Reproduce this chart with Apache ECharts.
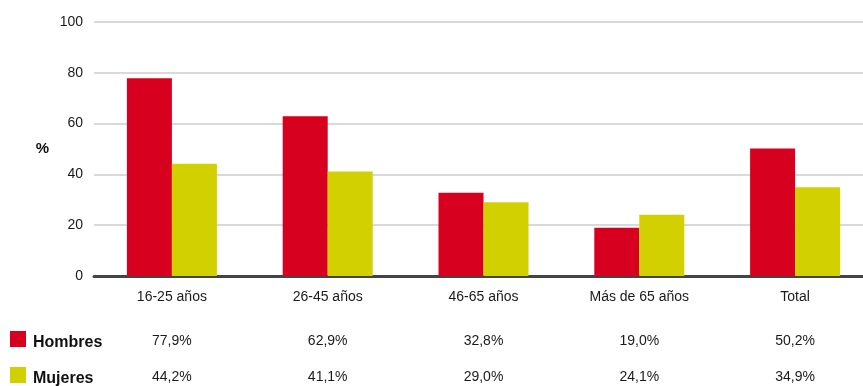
<!DOCTYPE html>
<html>
<head>
<meta charset="utf-8">
<script src="https://cdn.jsdelivr.net/npm/echarts@6/dist/echarts.min.js"></script>
<style>
  html, body { margin: 0; padding: 0; background: #fff; }
  #chart { width: 863px; height: 386px; }
</style>
</head>
<body>
<div id="chart"></div>
<script>
// Age groups and percentage of each sex
const categories = ['16-25 años', '26-45 años', '46-65 años', 'Más de 65 años', 'Total'];
const hombres = [77.9, 62.9, 32.8, 19.0, 50.2];
const mujeres = [44.2, 41.1, 29.0, 24.1, 34.9];
const yTicks = [0, 20, 40, 60, 80, 100];

const RED = '#d7001f';
const YELLOW = '#d3d000';
const FONT = '"Liberation Sans", Arial, sans-serif';

const pct = v => v.toFixed(1).replace('.', ',') + '%';

const chart = echarts.init(document.getElementById('chart'));

// Row of values under the category labels, one per series
function valueRow(values, offset) {
  return {
    type: 'category',
    data: categories,
    position: 'bottom',
    offset: offset,
    axisLine: { show: false },
    axisTick: { show: false },
    splitLine: { show: false },
    axisLabel: {
      interval: 0,
      margin: 14,
      fontSize: 14,
      fontFamily: FONT,
      color: '#1a1a1a',
      formatter: (v, i) => pct(values[i])
    }
  };
}

// One legend entry per table row
function rowLegend(name, top) {
  return {
    left: 10,
    top: top,
    padding: 0,
    itemWidth: 16,
    itemHeight: 16,
    icon: 'rect',
    selectedMode: false,
    formatter: '{t|{name}}',
    textStyle: {
      rich: {
        t: { fontSize: 16, fontWeight: 'bold', color: '#111', fontFamily: FONT, padding: [7, 0, 0, 2] }
      }
    },
    data: [name]
  };
}

chart.setOption({
  animation: false,
  textStyle: { fontFamily: FONT },
  // the plot runs a little past the right edge of the canvas
  grid: { left: 94, top: 22, width: 779, height: 254, containLabel: false, outerBoundsMode: 'none' },
  legend: [rowLegend('Hombres', 331), rowLegend('Mujeres', 367)],
  xAxis: [
    {
      type: 'category',
      data: categories,
      axisLine: { show: true, lineStyle: { color: '#444', width: 3 } },
      axisTick: { show: false },
      axisLabel: { interval: 0, margin: 14, fontSize: 14, fontFamily: FONT, color: '#1a1a1a' }
    },
    valueRow(hombres, 44),
    valueRow(mujeres, 80)
  ],
  yAxis: {
    type: 'value',
    min: yTicks[0],
    max: yTicks[yTicks.length - 1],
    interval: 20,
    name: '%',
    nameLocation: 'middle',
    nameRotate: 0,
    nameGap: 45,
    nameTextStyle: { fontSize: 15, fontWeight: 'bold', color: '#111', fontFamily: FONT },
    axisLine: { show: false },
    axisTick: { show: false },
    axisLabel: { margin: 11, fontSize: 14, fontFamily: FONT, color: '#1a1a1a' },
    splitLine: { lineStyle: { color: '#cccccc', width: 1.5 } }
  },
  series: [
    {
      name: 'Hombres',
      type: 'bar',
      data: hombres,
      barGap: '0%',
      barWidth: 45,
      itemStyle: { color: RED }
    },
    {
      name: 'Mujeres',
      type: 'bar',
      data: mujeres,
      barWidth: 45,
      itemStyle: { color: YELLOW }
    }
  ]
});
</script>
</body>
</html>
